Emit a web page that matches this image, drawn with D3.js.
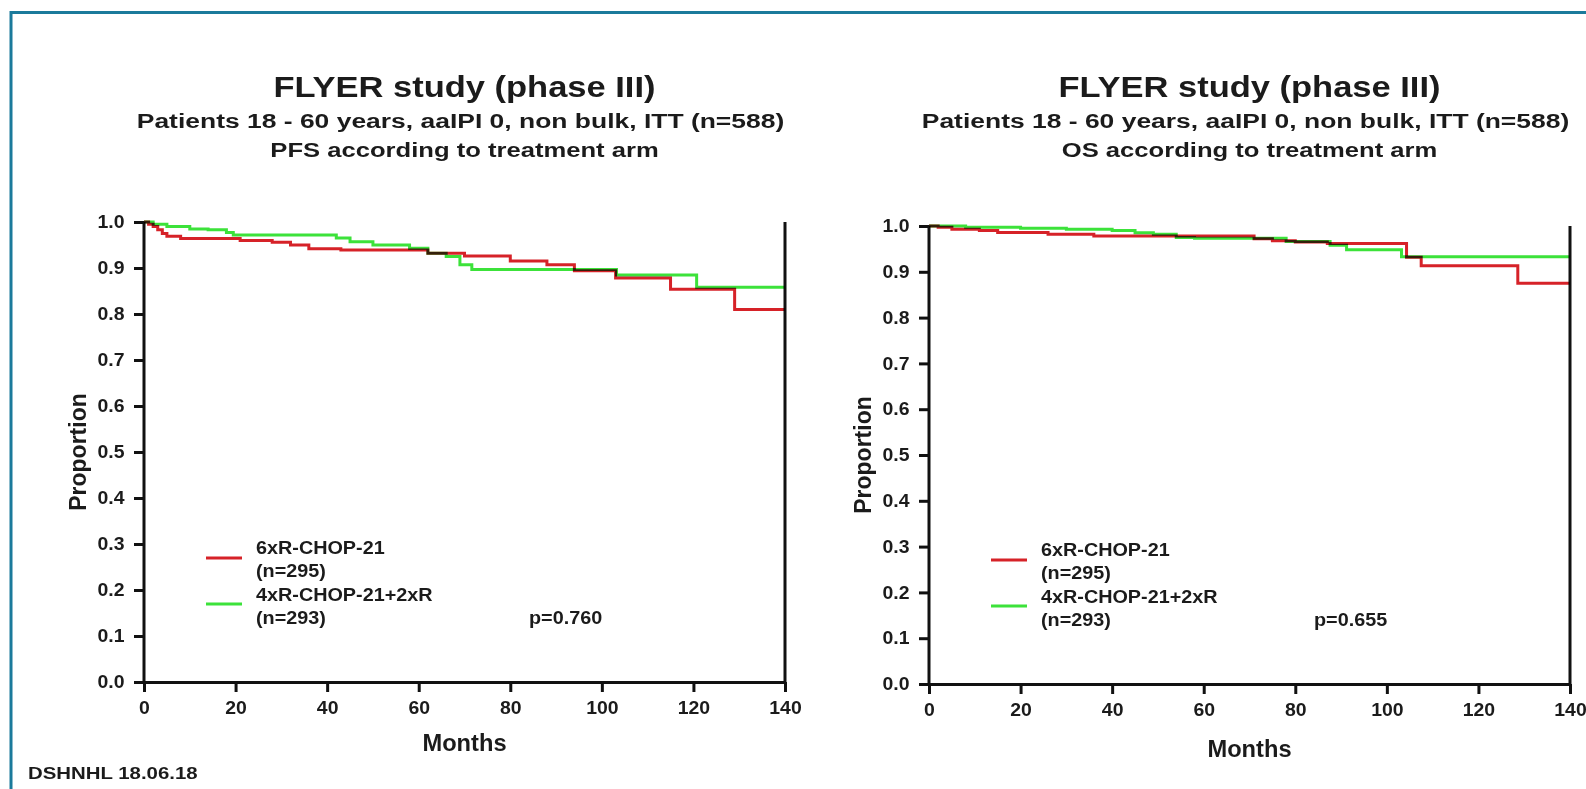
<!DOCTYPE html>
<html>
<head>
<meta charset="utf-8">
<script src="https://cdn.jsdelivr.net/npm/d3@7"></script>
<style>
  html, body { margin: 0; padding: 0; background: #ffffff; }
  svg { display: block; }
  text { font-family: "Liberation Sans", Arial, Helvetica, sans-serif; font-weight: bold; fill: #1b1b1b; }
</style>
</head>
<body>
<svg id="chart" width="1586" height="789"></svg>
<script>
// ---- data ----
const monthTicks = [0, 20, 40, 60, 80, 100, 120, 140];
const proportionTicks = [0, 0.1, 0.2, 0.3, 0.4, 0.5, 0.6, 0.7, 0.8, 0.9, 1.0];

const studyTitle = "FLYER study (phase III)";
const cohortLine = "Patients 18 - 60 years, aaIPI 0, non bulk, ITT (n=588)";
const endpointLines = ["PFS according to treatment arm", "OS according to treatment arm"];

const armNames = ["6xR-CHOP-21", "4xR-CHOP-21+2xR"];
const armCounts = ["(n=295)", "(n=293)"];
const pValues = ["p=0.760", "p=0.655"];
const footer = "DSHNHL 18.06.18";

// Kaplan-Meier steps: [month, proportion]; last point = end of follow-up
const pfs6x = [[0,1.0],[1,0.995],[2,0.99],[3,0.983],[4,0.975],[5,0.969],[8,0.964],[21,0.96],[28,0.956],
  [32,0.95],[36,0.942],[43,0.939],[62,0.932],[70,0.926],[80,0.915],[88,0.907],[94,0.894],
  [103,0.878],[115,0.854],[129,0.81],[140,0.81]];
const pfs4x = [[0,1.0],[2,0.995],[5,0.99],[10,0.985],[14,0.983],[18,0.977],[19.5,0.972],[42,0.965],
  [45,0.957],[50,0.95],[58,0.943],[62,0.932],[66,0.925],[69,0.907],[71.6,0.897],[103.2,0.885],
  [120.7,0.858],[140,0.858]];
const os6x = [[0,1.0],[2,0.997],[5,0.993],[11,0.99],[15,0.986],[26,0.982],[36,0.978],[71,0.972],
  [75,0.968],[80,0.965],[87,0.962],[104.3,0.932],[107.5,0.913],[128.6,0.875],[140,0.875]];
const os4x = [[0,1.0],[8,0.997],[20,0.995],[30,0.993],[40,0.99],[45,0.985],[49,0.982],[54,0.975],
  [58,0.973],[78,0.966],[87.6,0.958],[91.2,0.948],[103.2,0.933],[140,0.933]];

// ---- styling ----
const armColors = ["#d62228", "#3ce23a"];
const ink = "#111111";
const frameColor = "#1b7a9b";

const svg = d3.select("#chart");

// slide frame (top and left rules)
svg.append("line").attr("x1", 10).attr("x2", 1586).attr("y1", 12.5).attr("y2", 12.5)
  .attr("stroke", frameColor).attr("stroke-width", 3);
svg.append("line").attr("x1", 11).attr("x2", 11).attr("y1", 11).attr("y2", 789)
  .attr("stroke", frameColor).attr("stroke-width", 3);

function stretchedText(parent, x, y, str, size, sx, anchor) {
  return parent.append("text")
    .attr("transform", `translate(${x},${y}) scale(${sx},1)`)
    .attr("text-anchor", anchor || "middle")
    .style("font-size", size + "px")
    .text(str);
}

function drawPanel(cfg) {
  const g = svg.append("g");
  const x = d3.scaleLinear().domain([0, 140]).range([cfg.left, cfg.right]);
  const y = d3.scaleLinear().domain([0, 1]).range([cfg.bottom, cfg.top]);
  const cx = (cfg.left + cfg.right) / 2;

  // titles
  stretchedText(g, cx, 97, studyTitle, 30, 1.15);
  stretchedText(g, cx - 4, 128, cohortLine, 21, 1.26);
  stretchedText(g, cx, 157, cfg.endpoint, 21, 1.22);

  // axes
  const yAxis = d3.axisLeft(y).tickValues(proportionTicks).tickFormat(d3.format(".1f"))
    .tickSizeInner(10).tickSizeOuter(0).tickPadding(8);
  const xAxis = d3.axisBottom(x).tickValues(monthTicks).tickFormat(d3.format("d"))
    .tickSizeInner(10).tickSizeOuter(0).tickPadding(9);

  const gy = g.append("g").attr("transform", `translate(${cfg.left},0)`).call(yAxis);
  const gx = g.append("g").attr("transform", `translate(0,${cfg.bottom})`).call(xAxis);
  [gy, gx].forEach(a => {
    a.attr("font-size", null).attr("font-family", null);
    a.select(".domain").attr("stroke", ink).attr("stroke-width", 3);
    a.selectAll(".tick line").attr("stroke", ink).attr("stroke-width", 3);
    a.selectAll(".tick text").attr("fill", "#1b1b1b")
      .attr("transform", "scale(1.08,1)")
      .style("font-size", "18px").style("font-family", "'Liberation Sans', Arial, sans-serif")
      .style("font-weight", "bold");
  });
  // extend the y axis line down through the origin
  gy.select(".domain").attr("d", `M0,${cfg.top}V${cfg.bottom + 1.5}`);

  // right-hand frame line
  g.append("line").attr("x1", cfg.right).attr("x2", cfg.right)
    .attr("y1", cfg.top).attr("y2", cfg.bottom)
    .attr("stroke", ink).attr("stroke-width", 3);

  // axis titles
  stretchedText(g, cx, cfg.bottom + cfg.monthsGap, "Months", 23, 1.03);
  g.append("text")
    .attr("transform", `translate(${cfg.left - 58},${y(0.5)}) rotate(-90)`)
    .attr("text-anchor", "middle").style("font-size", "23px").text("Proportion");

  // survival curves
  const line = d3.line().x(d => x(d[0])).y(d => y(d[1])).curve(d3.curveStepAfter);
  cfg.series.forEach((s, i) => {
    g.append("path").datum(s)
      .attr("d", line)
      .attr("fill", "none")
      .attr("stroke", armColors[i])
      .attr("stroke-width", 3)
      .style("mix-blend-mode", "multiply");
  });

  // legend
  const legendLineY = [cfg.bottom - 124, cfg.bottom - 78];
  armNames.forEach((name, i) => {
    g.append("line")
      .attr("x1", cfg.left + 62).attr("x2", cfg.left + 98)
      .attr("y1", legendLineY[i]).attr("y2", legendLineY[i])
      .attr("stroke", armColors[i]).attr("stroke-width", 3);
    stretchedText(g, cfg.left + 112, cfg.bottom - 128 + i * 47, name, 18, 1.1, "start");
    stretchedText(g, cfg.left + 112, cfg.bottom - 105 + i * 47, armCounts[i], 18, 1.1, "start");
  });
  stretchedText(g, cfg.left + 385, cfg.bottom - 58, cfg.pValue, 18, 1.1, "start");
}

drawPanel({ left: 144, right: 785, top: 222, bottom: 682, monthsGap: 69,
  endpoint: endpointLines[0], series: [pfs6x, pfs4x], pValue: pValues[0] });
drawPanel({ left: 929, right: 1570, top: 226, bottom: 684, monthsGap: 73,
  endpoint: endpointLines[1], series: [os6x, os4x], pValue: pValues[1] });

stretchedText(svg, 28, 779, footer, 17, 1.2, "start");
</script>
</body>
</html>
